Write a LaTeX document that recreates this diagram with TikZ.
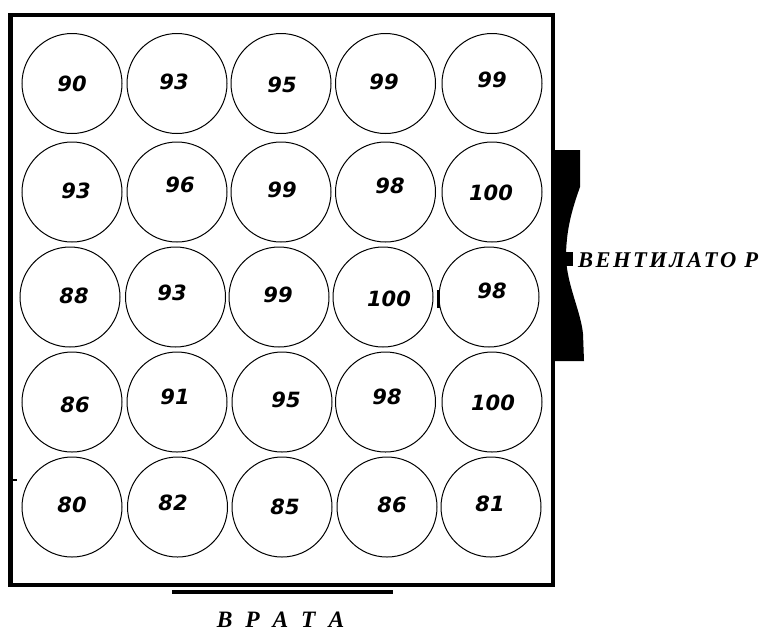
\documentclass[tikz,border=0pt]{standalone}
\usepackage{fontspec}
\setmainfont{Liberation Serif}
\newfontfamily\numfont{DejaVu Sans}
\newfontfamily\fanfont{Liberation Serif}[LetterSpace=11]
\newfontfamily\gatefont{Liberation Serif}[WordSpace=2.2]

\begin{document}
\begin{tikzpicture}[x=1pt, y=-1pt,
    well/.style={circle, draw, line width=1pt, minimum size=100pt, inner sep=0pt},
    num/.style={inner sep=0pt, font=\numfont\bfseries\itshape\fontsize{21pt}{21pt}\selectfont},
    caption/.style={inner sep=0pt, font=\bfseries\itshape\fontsize{22.5pt}{22.5pt}\selectfont}]

    \useasboundingbox (0,0) rectangle (759,633);

    % Walls of the room
    \draw[line width=4.5pt] (10.5,15) rectangle (553,585);

    % Wells with their readings (row/col/centre/text/value)
    \foreach \row/\col/\cx/\cy/\tx/\ty/\v in {
        1/1/72/83.5/72/84/90, 1/2/177/83.5/174/82/93, 1/3/281/83.5/282/85/95,
        1/4/385.5/83.5/384/82/99, 1/5/492/83.5/492/80/99,
        2/1/72/192/76/191/93, 2/2/177/192/180/185/96, 2/3/281/192/282/190/99,
        2/4/385.5/192/390/186/98, 2/5/492/192/491/193/100,
        3/1/70/297/74/296/88, 3/2/175.5/297/172/293/93, 3/3/279/297/278/295/99,
        3/4/383/297/389/299/100, 3/5/489/297/492/291/98,
        4/1/72/402/75/405/86, 4/2/177/402/175/397/91, 4/3/282/402/286/399.5/95,
        4/4/385.5/402/387/397/98, 4/5/492/402/493/403/100,
        5/1/72/507/72/505/80, 5/2/177.5/507/173/503/82, 5/3/282/507/285/507/85,
        5/4/387/507/392/505/86, 5/5/491/507/490/504/81}
    {
        \node[well] (w\row\col) at (\cx,\cy) {};
        \node[num] (n\row\col) at (\tx,\ty) {\v};
    }

    % Small marks
    \draw[line width=1.5pt] (12,480) -- (17,480);
    \draw[line width=3pt] (438.5,290) -- (438.5,308);

    % Fan on the right wall
    \fill (555,150) -- (580,150) -- (580,187)
        .. controls (571,212) and (566,232) .. (566,258)
        .. controls (567,285) and (581,312) .. (583,334)
        -- (584,361) -- (555,361) -- cycle;
    \fill (563,252) rectangle (573,266);
    \node[caption, anchor=west, font=\fanfont\bfseries\itshape\fontsize{22.5pt}{22.5pt}\selectfont] (fan) at (578,260) {ВЕНТИЛАТО Р};

    % Gate
    \draw[line width=4pt] (172,592) -- (393,592);
    \node[caption, font=\gatefont\bfseries\itshape\fontsize{23.5pt}{23.5pt}\selectfont] (gate) at (280.5,620) {В Р А Т А};
\end{tikzpicture}
\end{document}
